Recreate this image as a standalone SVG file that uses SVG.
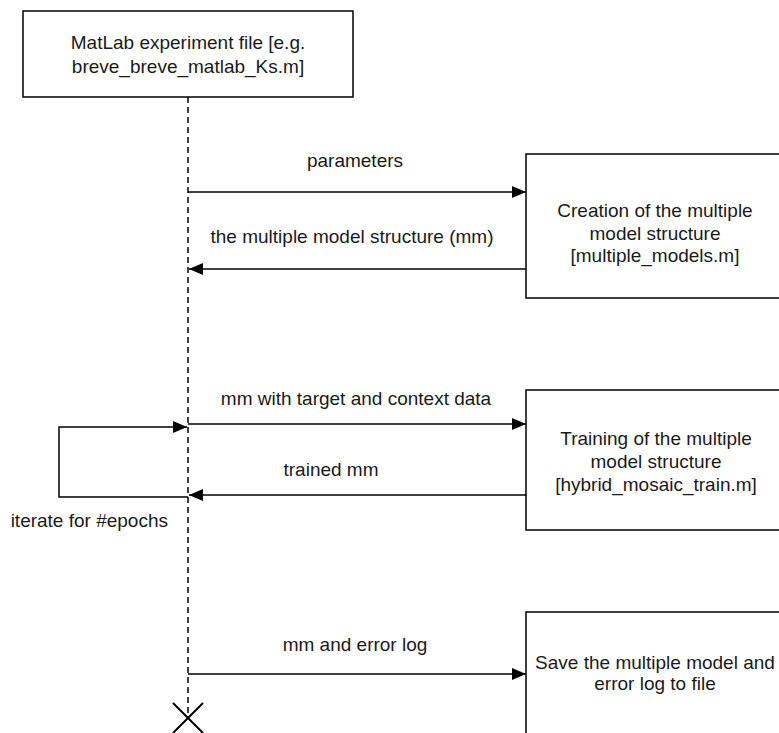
<svg xmlns="http://www.w3.org/2000/svg" width="779" height="733" viewBox="0 0 779 733">
  <style>
    .box { fill: #ffffff; stroke: #000000; stroke-width: 1.5; }
    .lbl { font-family: "Liberation Sans", Arial, Helvetica, sans-serif; font-size: 19px; fill: #1a1a1a; text-anchor: middle; }
    .msg { fill: none; stroke: #000000; stroke-width: 1.5; }
    .life { fill: none; stroke: #000000; stroke-width: 1.5; stroke-dasharray: 6 4; }
  </style>
  <defs>
    <marker id="arrow" viewBox="0 0 14 12" refX="14" refY="6" markerWidth="14" markerHeight="12" markerUnits="userSpaceOnUse" orient="auto">
      <path d="M0,0 L14,6 L0,12 Z" fill="#000000"/>
    </marker>
  </defs>
  <rect width="779" height="733" fill="#ffffff"/>

  <!-- experiment file participant -->
  <g id="experiment">
    <rect class="box" x="23" y="11" width="330" height="86"/>
    <text class="lbl" x="188" y="49">MatLab experiment file [e.g.</text>
    <text class="lbl" x="188" y="73">breve_breve_matlab_Ks.m]</text>
  </g>

  <!-- creation of the model structure -->
  <g id="creation">
    <rect class="box" x="526" y="154" width="260" height="144"/>
    <text class="lbl" x="655" y="217">Creation of the multiple</text>
    <text class="lbl" x="655" y="240">model structure</text>
    <text class="lbl" x="655" y="262">[multiple_models.m]</text>
  </g>

  <!-- training -->
  <g id="training">
    <rect class="box" x="526" y="390" width="260" height="140"/>
    <text class="lbl" x="656" y="445">Training of the multiple</text>
    <text class="lbl" x="656" y="468">model structure</text>
    <text class="lbl" x="656" y="491">[hybrid_mosaic_train.m]</text>
  </g>

  <!-- saving -->
  <g id="save">
    <rect class="box" x="526" y="612" width="260" height="140"/>
    <text class="lbl" x="655" y="669">Save the multiple model and</text>
    <text class="lbl" x="655" y="690">error log to file</text>
  </g>

  <!-- lifeline and its end -->
  <g id="lifeline">
    <line class="life" x1="188" y1="97" x2="188" y2="718"/>
    <path d="M173,703 L203,733 M203,703 L173,733" stroke="#000000" stroke-width="2" fill="none"/>
  </g>

  <!-- messages -->
  <g id="connectors">
    <line class="msg" x1="188" y1="192" x2="526" y2="192" marker-end="url(#arrow)"/>
    <text class="lbl" x="355" y="167">parameters</text>

    <line class="msg" x1="526" y1="269" x2="189" y2="269" marker-end="url(#arrow)"/>
    <text class="lbl" x="352" y="243">the multiple model structure (mm)</text>

    <line class="msg" x1="188" y1="424" x2="526" y2="424" marker-end="url(#arrow)"/>
    <text class="lbl" x="356" y="405">mm with target and context data</text>

    <line class="msg" x1="526" y1="495" x2="189" y2="495" marker-end="url(#arrow)"/>
    <text class="lbl" x="331" y="476">trained mm</text>

    <path class="msg" d="M188,497 L59,497 L59,427 L187,427" marker-end="url(#arrow)"/>
    <text class="lbl" x="168" y="527" style="text-anchor:end">iterate for #epochs</text>

    <line class="msg" x1="188" y1="674" x2="526" y2="674" marker-end="url(#arrow)"/>
    <text class="lbl" x="355" y="651">mm and error log</text>
  </g>
</svg>
